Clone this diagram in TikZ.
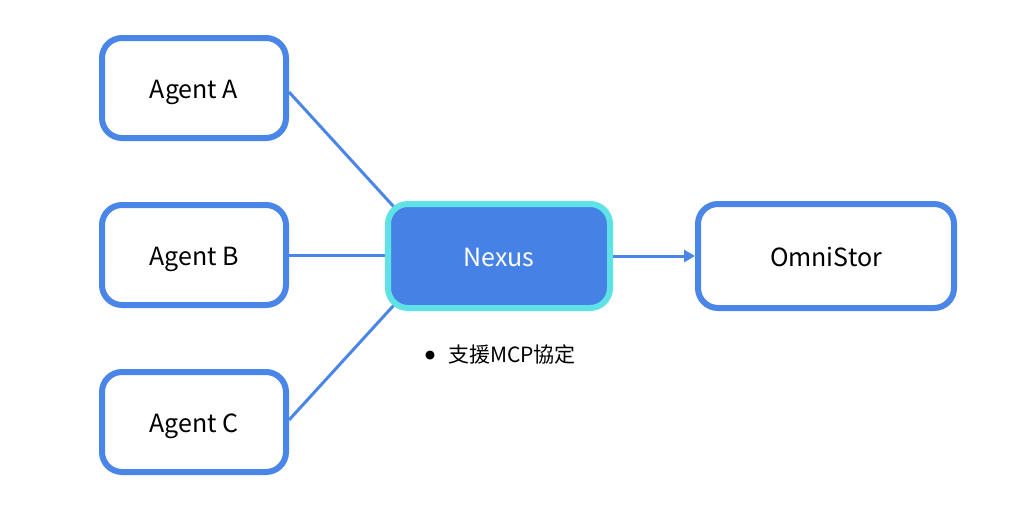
\documentclass[tikz,border=0pt]{standalone}
\usepackage{fontspec}
\usepackage{graphicx}
\setmainfont{Noto Sans CJK TC}
\usetikzlibrary{arrows.meta}
\definecolor{boxblue}{HTML}{4A86E8}
\definecolor{nexfill}{HTML}{4682E6}
\definecolor{nexcyan}{HTML}{5EE2E6}
\tikzset{
  boxtext/.style={font=\fontsize{25}{28}\selectfont, text height=20pt, text depth=0pt},
  agentbox/.style={boxtext, draw=boxblue, line width=6pt, rounded corners=20pt, fill=white,
    minimum width=184pt, minimum height=100pt, text=black},
  hubbox/.style={boxtext, draw=nexcyan, line width=6pt, rounded corners=20pt, fill=nexfill,
    minimum width=222pt, minimum height=104pt, text=white},
  storebox/.style={boxtext, draw=boxblue, line width=6pt, rounded corners=20pt, fill=white,
    minimum width=256pt, minimum height=104pt, text=black},
  link/.style={draw=boxblue, line width=3pt},
  flow/.style={draw=boxblue, line width=3pt, -{Triangle[length=11pt,width=12pt]}},
  note/.style={font=\fontsize{21}{24}\selectfont, text=black, anchor=west}
}
\begin{document}
\begin{tikzpicture}[x=1pt,y=-1pt]
\useasboundingbox[fill=white] (0,0) rectangle (1024,512);
\node[agentbox] (a) at (194,88) {Agent A};
\node[agentbox] (b) at (194,255) {Agent B};
\node[agentbox] (c) at (194,422) {Agent C};
\coordinate (ae) at (289,92);
\coordinate (ce) at (289,420);
\coordinate (nw) at (394,207);
\coordinate (sw) at (394,305);
\draw[link] (ae) -- (nw);
\draw[link] (b.east) -- (390,255);
\draw[link] (ce) -- (sw);
\node[hubbox] (n) at (499,256) {Nexus};
\node[storebox] (o) at (826,256) {OmniStor};
\draw[flow] (n.east) -- (o.west);
\node[note] (t) at (421,358) {\makebox[12pt][c]{\raisebox{-9.5pt}{\scalebox{2}{\textbullet}}}\hspace{11.5pt}支援MCP協定};
\end{tikzpicture}
\end{document}
